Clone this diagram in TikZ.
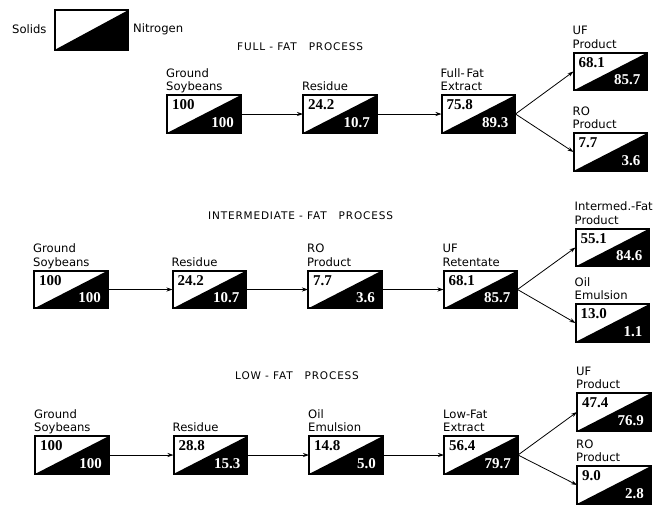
\documentclass[tikz,border=0pt]{standalone}
\usepackage{fontspec}
\setmainfont{DejaVu Sans}
\newfontfamily\numfont{Liberation Serif}
\newfontfamily\ttlfont[LetterSpace=8]{DejaVu Sans}
\usetikzlibrary{arrows.meta}
\tikzset{
  box/.style={draw=black, line width=1.4pt, minimum width=72.6pt, minimum height=36.6pt, inner sep=0pt, fill=white},
  topnum/.style={anchor=north west, inner sep=0pt, font=\numfont\bfseries\fontsize{15}{15}\selectfont, xshift=5pt, yshift=-4.5pt},
  botnum/.style={anchor=base east, inner sep=0pt, text=white, font=\numfont\bfseries\fontsize{15}{15}\selectfont, xshift=-7pt, yshift=6pt},
  lbl/.style={anchor=south west, align=left, inner sep=0pt, text depth=0pt, font=\fontsize{11.6}{13.8}\selectfont, yshift=4pt, xshift=-1pt},
  ttl/.style={anchor=base west, inner sep=0pt, font=\ttlfont\fontsize{10.5}{12}\selectfont},
  leg/.style={anchor=base west, inner sep=0pt, font=\fontsize{11.6}{13}\selectfont},
  flow/.style={line width=0.8pt, -{Stealth[length=6pt,width=4pt]}}
}
\newcommand\splitbox[6]{%
  \node[box] (#1) at (#2,#3) {};
  \fill (#1.south west) -- (#1.north east) -- (#1.south east) -- cycle;
  \draw[line width=1.4pt] (#1.south west) rectangle (#1.north east);
  \node[topnum] (#1t) at (#1.north west) {#5};
  \node[botnum] (#1b) at (#1.south east) {#6};
  \node[lbl] (#1l) at (#1.north west) {#4};
}
\begin{document}
\begin{tikzpicture}[x=1pt,y=-1pt]
\useasboundingbox (0,0) rectangle (654,504);
% legend
\node[box, minimum height=38.6pt] (legbox) at (91.5,30) {};
\fill (legbox.south west) -- (legbox.north east) -- (legbox.south east) -- cycle;
\draw[line width=1.4pt] (legbox.south west) rectangle (legbox.north east);
\node[leg] (solids) at (12,33) {Solids};
\node[leg] (nitro) at (133,32) {Nitrogen};
% titles
\node[ttl] (t1) at (237,50) {FULL - FAT\hspace{12pt}PROCESS};
\node[ttl] (t2) at (208,219) {INTERMEDIATE - FAT\hspace{12pt}PROCESS};
\node[ttl] (t3) at (235,379) {LOW - FAT\hspace{12pt}PROCESS};
% full-fat
\splitbox{f1}{204}{114}{Ground\\Soybeans}{100}{100}
\splitbox{f2}{340}{114}{Residue}{24.2}{10.7}
\splitbox{f3}{478.5}{114}{Full-\,Fat\\Extract}{75.8}{89.3}
\splitbox{f4}{610.5}{71.5}{UF\\Product}{68.1}{85.7}
\splitbox{f5}{610.5}{152}{RO\\Product}{7.7}{3.6}
\draw[flow] (f1) -- (f2);
\draw[flow] (f2) -- (f3);
\draw[flow] (f3.east) -- (f4.west);
\draw[flow] (f3.east) -- (f5.west);
% intermediate
\splitbox{i1}{71}{289.5}{Ground\\Soybeans}{100}{100}
\splitbox{i2}{209.5}{289.5}{Residue}{24.2}{10.7}
\splitbox{i3}{345}{289.5}{RO\\Product}{7.7}{3.6}
\splitbox{i4}{480.5}{289.5}{UF\\Retentate}{68.1}{85.7}
\splitbox{i5}{612.5}{247.5}{Intermed.-Fat\\Product}{55.1}{84.6}
\splitbox{i6}{612.5}{323}{Oil\\Emulsion}{13.0}{1.1}
\draw[flow] (i1.east) -- (i2.west);
\draw[flow] (i2.east) -- (i3.west);
\draw[flow] (i3.east) -- (i4.west);
\draw[flow] (i4.east) -- (i5.west);
\draw[flow] (i4.east) -- (i6.west);
% low-fat
\splitbox{l1}{72}{455}{Ground\\Soybeans}{100}{100}
\splitbox{l2}{210.5}{455}{Residue}{28.8}{15.3}
\splitbox{l3}{346}{455}{Oil\\Emulsion}{14.8}{5.0}
\splitbox{l4}{481}{455}{Low-Fat\\Extract}{56.4}{79.7}
\splitbox{l5}{614}{412}{UF\\Product}{47.4}{76.9}
\splitbox{l6}{614}{485}{RO\\Product}{9.0}{2.8}
\draw[flow] (l1.east) -- (l2.west);
\draw[flow] (l2.east) -- (l3.west);
\draw[flow] (l3.east) -- (l4.west);
\draw[flow] (l4.east) -- (l5.west);
\draw[flow] (l4.east) -- (l6.west);
\end{tikzpicture}
\end{document}
